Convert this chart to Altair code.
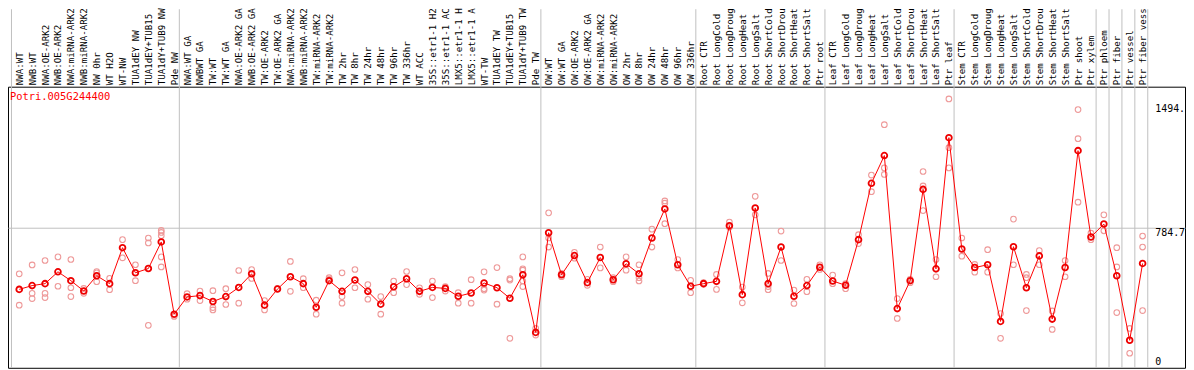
import altair as alt
import pandas as pd

gene = "Potri.005G244400"

names = [
    "NWA:WT", "NWB:WT", "NWA:OE-ARK2", "NWB:OE-ARK2", "NWA:miRNA-ARK2", "NWB:miRNA-ARK2",
    "NW 0hr", "WT H2O", "WT-NW", "TUA1dEY NW", "TUA1dEY+TUB15 NW", "TUA1dY+TUB9 NW", "Pde NW",
    "NWA:WT GA", "NWBWT GA", "TW:WT", "TW:WT GA", "NWA:OE-ARK2 GA", "NWB:OE-ARK2 GA",
    "TW:OE-ARK2", "TW:OE-ARK2 GA", "NWA:miRNA-ARK2 GA", "NWB:miRNA-ARK2 GA", "TW:miRNA-ARK2",
    "TW:miRNA-ARK2 GA", "TW 2hr", "TW 8hr", "TW 24hr", "TW 48hr", "TW 96hr", "TW 336hr",
    "WT ACC", "35S::etr1-1 H2O", "35S::etr1-1 ACC", "LMX5::etr1-1 H2O", "LMX5::etr1-1 ACC",
    "WT-TW", "TUA1dEY TW", "TUA1dEY+TUB15 TW", "TUA1dY+TUB9 TW", "Pde TW",
    "OW:WT", "OW:WT GA", "OW:OE-ARK2", "OW:OE-ARK2 GA", "OW:miRNA-ARK2", "OW:miRNA-ARK2 GA",
    "OW 2hr", "OW 8hr", "OW 24hr", "OW 48hr", "OW 96hr", "OW 336hr",
    "Root CTR", "Root LongCold", "Root LongDrought", "Root LongHeat", "Root LongSalt",
    "Root ShortCold", "Root ShortDrought", "Root ShortHeat", "Root ShortSalt", "Ptr root",
    "Leaf CTR", "Leaf LongCold", "Leaf LongDrought", "Leaf LongHeat", "Leaf LongSalt",
    "Leaf ShortCold", "Leaf ShortDrought", "Leaf ShortHeat", "Leaf ShortSalt", "Ptr leaf",
    "Stem CTR", "Stem LongCold", "Stem LongDrought", "Stem LongHeat", "Stem LongSalt",
    "Stem ShortCold", "Stem ShortDrought", "Stem ShortHeat", "Stem ShortSalt", "Ptr shoot",
    "Ptr xylem", "Ptr phloem", "Ptr fiber", "Ptr vessel", "Ptr fiber vessel",
]

means = [
    411, 434, 446, 518, 464, 401, 494, 446, 665, 512, 538, 700, 260,
    365, 373, 337, 367, 423, 506, 315, 413, 488, 446, 302, 464, 399, 468, 399, 321, 427,
    476, 399, 423, 417, 369, 389, 450, 421, 357, 500, 149,
    756, 500, 617, 452, 605, 470, 567, 506, 724, 901, 561, 430,
    446, 460, 799, 379, 907, 446, 669, 369, 434, 546,
    462, 436, 714, 1057, 1226, 294, 464, 1020, 536, 1335,
    657, 544, 561, 216, 671, 421, 615, 230, 544, 1256,
    730, 809, 494, 101, 569,
]

replicates = [
    [506, 315, 412], [560, 387, 355], [587, 387, 361], [609, 430], [593, 421, 367],
    [417, 387], [520, 512, 458], [478, 409], [714, 603], [561, 464],
    [724, 694, 192], [770, 758, 738, 609, 548], [254, 246],
    [385, 351], [401, 343], [403, 300, 286], [415, 319], [526, 327], [532, 478],
    [343, 286], [417], [581, 399], [476, 421], [345, 260], [482, 472],
    [512, 367, 327], [532, 421], [440, 351], [367, 260], [462, 391], [520, 440],
    [421, 381], [462, 361], [428, 401], [391, 327], [470, 327], [518, 415, 407],
    [544, 321], [476, 468, 113], [609, 536, 528, 462, 428], [173, 133],
    [877, 724, 669], [508, 488], [637, 601], [472, 436], [669, 542], [482, 458],
    [609, 528], [561, 482, 462], [778, 669], [950, 936, 811], [593, 542], [466, 391],
    [452, 442], [502, 411], [821, 790], [425, 329], [978, 865], [508, 428, 409],
    [766, 587], [407, 325], [472, 397], [561, 532],
    [498, 446], [446, 415], [744, 690], [1107, 1006], [1414, 1151, 1111], [355, 234],
    [472, 452], [1129, 1041, 891], [593, 488], [1571, 1274, 1151],
    [724, 613], [563, 516], [653, 516], [264, 113], [839, 561], [502, 482, 282],
    [647, 561], [280, 167], [587, 488], [1506, 1329, 942],
    [754, 714], [865, 768], [665, 548, 270], [173, 22], [736, 669, 282],
]

group_ends = [0, 13, 41, 53, 63, 73, 84, 85, 86, 87, 88]

axis_values = [0, 784.7, 1494]
axis_texts = ["0", "784.7", "1494."]

# ---- tables ----
idx = list(range(1, len(names) + 1))
df_mean = pd.DataFrame({"idx": idx, "name": names, "mean": means})
rows = []
for i, reps in zip(idx, replicates):
    for r in reps:
        rows.append({"idx": i, "val": r})
df_rep = pd.DataFrame(rows)
df_sep = pd.DataFrame({"end": group_ends})
df_ylab_top = pd.DataFrame({"v": axis_values[2:], "t": axis_texts[2:]})
df_ylab = pd.DataFrame({"v": axis_values[:2], "t": axis_texts[:2]})

FONT = "DejaVu Sans Mono"
W, H = 1185, 283
xscale = alt.Scale(domain=[0.131, 91.285], nice=False, zero=False)
yscale = alt.Scale(domain=[-66.5, 1645.5], nice=False, zero=False)

label_expr = "[" + ",".join("'" + n + "'" for n in names) + "][datum.value - 1]"

x_axis = alt.Axis(
    orient="top", values=idx, labelExpr=label_expr, labelAngle=270,
    labelAlign="left", labelBaseline="middle",
    labelFont=FONT, labelFontSize=9.2, labelColor="black", labelPadding=2,
    labelOverlap=False, labelFlush=False, labelBound=False, labelLimit=400,
    ticks=False, domain=False, grid=False, title=None,
)
y_axis = alt.Axis(
    orient="right", values=[784.7], grid=True, gridColor="#c0c0c0",
    gridOpacity=1, gridWidth=1, labels=False, ticks=False, domain=False, title=None,
)

sep = alt.Chart(df_sep).transform_calculate(pos="datum.end + 0.4").mark_rule(
    color="#c0c0c0", strokeWidth=1
).encode(
    x=alt.X("pos:Q", scale=xscale, axis=x_axis),
    y=alt.value(-78),
    y2=alt.value(H),
)

reps_layer = alt.Chart(df_rep).mark_point(
    shape="circle", filled=False, color="#ee9999", size=32, strokeWidth=1.1, opacity=1
).encode(
    x=alt.X("idx:Q", scale=xscale, axis=x_axis),
    y=alt.Y("val:Q", scale=yscale, axis=y_axis),
)

line = alt.Chart(df_mean).mark_line(color="#ff0000", strokeWidth=1).encode(
    x=alt.X("idx:Q", scale=xscale, axis=x_axis),
    y=alt.Y("mean:Q", scale=yscale, axis=y_axis),
    order="idx:Q",
)

mean_pts = alt.Chart(df_mean).mark_point(
    shape="circle", filled=False, color="#ee0000", size=34, strokeWidth=1.8, opacity=1
).encode(
    x=alt.X("idx:Q", scale=xscale, axis=x_axis),
    y=alt.Y("mean:Q", scale=yscale, axis=y_axis),
)

title = alt.Chart(pd.DataFrame({"t": [gene]})).mark_text(
    align="left", baseline="top", font=FONT, fontSize=10.5, color="#ff0000"
).encode(x=alt.value(2), y=alt.value(5), text="t:N")

ylab_top = alt.Chart(df_ylab_top).mark_text(
    align="left", baseline="alphabetic", font=FONT, fontSize=10, color="black"
).encode(x=alt.value(1155), y=alt.Y("v:Q", scale=yscale, axis=y_axis), text="t:N")

ylab = alt.Chart(df_ylab).mark_text(
    align="left", baseline="top", font=FONT, fontSize=10, color="black"
).encode(x=alt.value(1155), y=alt.Y("v:Q", scale=yscale, axis=y_axis), text="t:N")

chart = alt.layer(sep, reps_layer, line, mean_pts, title, ylab_top, ylab).properties(
    width=W, height=H,
    autosize=alt.AutoSizeParams(type="none"),
    padding={"left": 0, "top": 78, "right": 1, "bottom": 1},
    background="white",
).configure_view(stroke="black", strokeWidth=1)

chart.save("out.html", embed_options={"renderer": "svg", "actions": False})
